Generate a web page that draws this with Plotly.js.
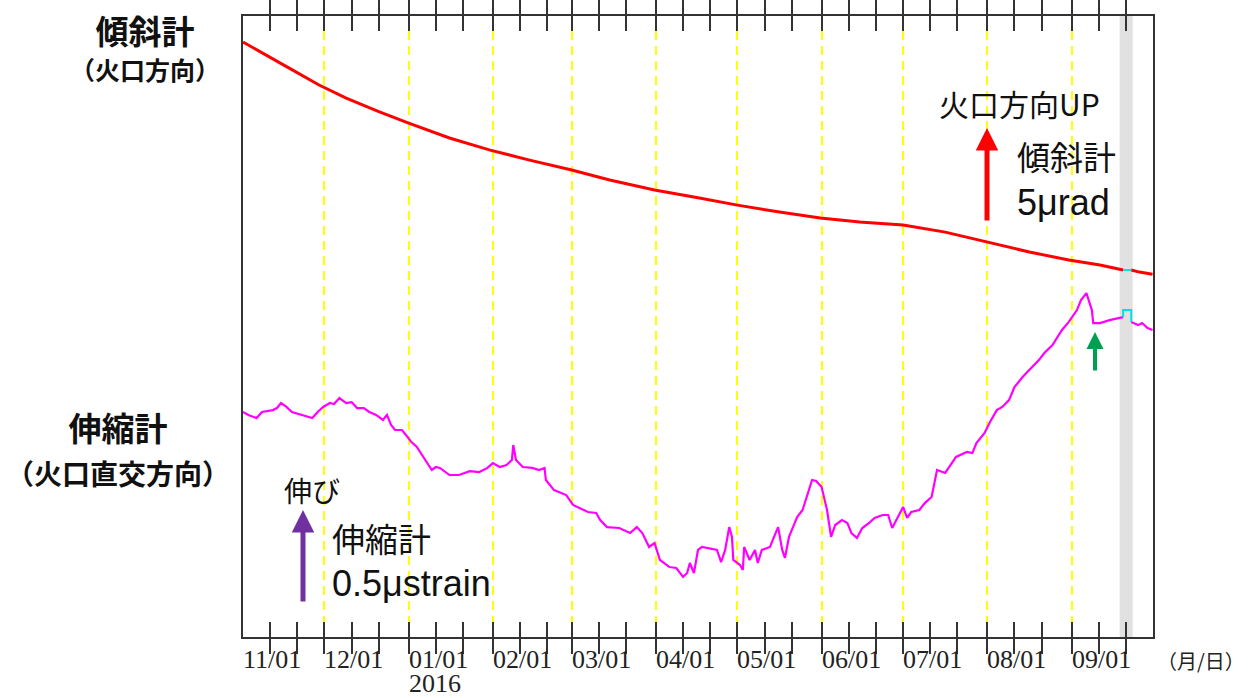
<!DOCTYPE html>
<html>
<head>
<meta charset="utf-8">
<script src="https://cdn.plot.ly/plotly-3.0.1.min.js"></script>
<style>html,body{margin:0;padding:0;background:#fff;}#chart{width:1251px;height:698px;}</style>
</head>
<body>
<div id="chart"></div>
<script>
// ---- data ----
const monthTicks = ['2015-11-01','2015-12-01','2016-01-01','2016-02-01','2016-03-01','2016-04-01','2016-05-01','2016-06-01','2016-07-01','2016-08-01','2016-09-01'];
const monthLabels = ['11/01','12/01','01/01','02/01','03/01','04/01','05/01','06/01','07/01','08/01','09/01'];
const tenDayTicks = ['2015-11-01','2015-11-11','2015-11-21','2015-12-01','2015-12-11','2015-12-21','2016-01-01','2016-01-11','2016-01-21','2016-02-01','2016-02-11','2016-02-21','2016-03-01','2016-03-11','2016-03-21','2016-04-01','2016-04-11','2016-04-21','2016-05-01','2016-05-11','2016-05-21','2016-06-01','2016-06-11','2016-06-21','2016-07-01','2016-07-11','2016-07-21','2016-08-01','2016-08-11','2016-08-21','2016-09-01','2016-09-11','2016-09-21'];
const yearLabel = '2016';

// tilt (crater direction), μrad, arbitrary offset
const tiltDates = ['2015-11-01','2015-11-08','2015-11-18','2015-11-29','2015-12-09','2015-12-21','2016-01-01','2016-01-16','2016-01-31','2016-02-14 12:00','2016-03-01','2016-03-15','2016-03-31 12:00','2016-04-17','2016-05-01','2016-05-16 12:00','2016-05-31 12:00','2016-06-15','2016-07-01','2016-07-16 12:00','2016-08-01','2016-08-16 12:00','2016-08-31','2016-09-11 12:00','2016-09-20','2016-09-21','2016-09-23','2016-09-26','2016-09-30 20:00'];
const tiltVals = [31.99,31.40,30.59,29.68,28.98,28.25,27.63,26.83,26.18,25.64,25.11,24.57,24.03,23.60,23.22,22.85,22.53,22.31,22.15,21.77,21.24,20.70,20.27,20.00,19.73,null,19.73,19.62,19.51];
const tiltGapDates = ['2016-09-20','2016-09-23'];
const tiltGapVals = [19.73,19.73];

// extensometer (perpendicular to crater), μstrain, arbitrary offset
const strainDates = ['2015-11-01','2015-11-03','2015-11-06','2015-11-08','2015-11-12','2015-11-13 12:00','2015-11-15','2015-11-17','2015-11-19','2015-11-22 12:00','2015-11-25','2015-11-26 12:00','2015-11-28 12:00','2015-11-30 12:00','2015-12-03','2015-12-04 12:00','2015-12-06 12:00','2015-12-09','2015-12-11','2015-12-13','2015-12-15 12:00','2015-12-17 12:00','2015-12-20','2015-12-22 12:00','2015-12-24','2015-12-25 12:00','2015-12-27','2015-12-29 12:00','2015-12-31','2016-01-02','2016-01-04','2016-01-05 12:00','2016-01-07 12:00','2016-01-09 12:00','2016-01-11','2016-01-12 12:00','2016-01-16','2016-01-19 12:00','2016-01-23 12:00','2016-01-27','2016-01-30','2016-02-01','2016-02-03 12:00','2016-02-06','2016-02-08','2016-02-08 12:00','2016-02-09 12:00','2016-02-12','2016-02-15 12:00','2016-02-18','2016-02-20','2016-02-20 12:00','2016-02-23 12:00','2016-02-26 12:00','2016-02-28','2016-03-01 12:00','2016-03-04','2016-03-07','2016-03-10','2016-03-11 12:00','2016-03-14','2016-03-18 12:00','2016-03-22 12:00','2016-03-25','2016-03-27','2016-03-29 12:00','2016-03-31 12:00','2016-04-02 12:00','2016-04-06','2016-04-08 12:00','2016-04-11','2016-04-12 12:00','2016-04-13 12:00','2016-04-15','2016-04-16 12:00','2016-04-18','2016-04-23 12:00','2016-04-25','2016-04-26 12:00','2016-04-28','2016-04-29','2016-04-29 12:00','2016-05-02','2016-05-03','2016-05-03 12:00','2016-05-05 12:00','2016-05-07 12:00','2016-05-08 12:00','2016-05-10','2016-05-13','2016-05-14 12:00','2016-05-16','2016-05-17 12:00','2016-05-18 12:00','2016-05-20','2016-05-22','2016-05-23','2016-05-25','2016-05-28 12:00','2016-05-30','2016-06-01','2016-06-03','2016-06-04 12:00','2016-06-06','2016-06-08 12:00','2016-06-10 12:00','2016-06-12','2016-06-14','2016-06-16','2016-06-18 12:00','2016-06-20 12:00','2016-06-23 12:00','2016-06-25 12:00','2016-06-27','2016-06-29','2016-07-01','2016-07-02 12:00','2016-07-04','2016-07-07','2016-07-09','2016-07-11 12:00','2016-07-12 12:00','2016-07-13 12:00','2016-07-16 12:00','2016-07-18','2016-07-20 12:00','2016-07-24 12:00','2016-07-26 12:00','2016-07-28','2016-07-31','2016-08-02','2016-08-04 12:00','2016-08-06 12:00','2016-08-09','2016-08-11','2016-08-14','2016-08-17 12:00','2016-08-20','2016-08-22','2016-08-25','2016-08-28 12:00','2016-08-31','2016-09-03','2016-09-04 12:00','2016-09-06 12:00','2016-09-07','2016-09-08 12:00','2016-09-09','2016-09-11 12:00','2016-09-15','2016-09-18','2016-09-20','2016-09-21','2016-09-23','2016-09-25 12:00','2016-09-27','2016-09-29','2016-09-30 20:00'];
const strainVals = [1.210,1.194,1.177,1.210,1.220,1.231,1.258,1.237,1.210,1.194,1.183,1.177,1.210,1.237,1.258,1.253,1.285,1.258,1.263,1.231,1.231,1.210,1.194,1.167,1.194,1.140,1.113,1.113,1.086,1.048,1.022,0.989,0.941,0.898,0.914,0.909,0.871,0.871,0.892,0.887,0.909,0.935,0.914,0.925,0.952,1.032,0.952,0.914,0.909,0.898,0.909,0.844,0.790,0.774,0.763,0.710,0.694,0.672,0.667,0.629,0.591,0.586,0.559,0.591,0.559,0.484,0.505,0.414,0.376,0.371,0.323,0.344,0.398,0.344,0.468,0.484,0.468,0.403,0.468,0.591,0.538,0.414,0.387,0.360,0.484,0.414,0.468,0.398,0.468,0.484,0.538,0.591,0.468,0.425,0.538,0.613,0.645,0.683,0.844,0.839,0.806,0.683,0.538,0.602,0.629,0.613,0.559,0.532,0.586,0.613,0.640,0.656,0.656,0.586,0.640,0.699,0.640,0.672,0.683,0.720,0.753,0.828,0.898,0.882,0.914,0.968,0.995,0.989,1.043,1.097,1.156,1.220,1.237,1.274,1.344,1.398,1.452,1.489,1.527,1.570,1.651,1.694,1.758,1.812,1.849,1.828,1.758,1.688,1.688,1.704,1.715,1.720,null,1.694,1.677,1.688,1.661,1.651];
const strainGapDates = ['2016-09-20','2016-09-20','2016-09-23','2016-09-23'];
const strainGapVals = [1.720,1.758,1.758,1.694];

const maintDates = ['2016-09-18 17:00','2016-09-23 12:00'];

// ---- chart ----
const X0 = 243, PW = 910, Y0 = 637, PH = 621;
const px = v => (v - X0) / PW;
const py = v => (Y0 - v) / PH;
const jp = 'Noto Sans CJK JP, sans-serif';
const lat = 'Liberation Sans, Arial, sans-serif';
const serif = 'Liberation Serif, serif';

const traces = [
  {x: tiltDates, y: tiltVals, type: 'scatter', mode: 'lines', line: {color: '#ff0000', width: 3}, yaxis: 'y', connectgaps: false, hoverinfo: 'skip'},
  {x: tiltGapDates, y: tiltGapVals, type: 'scatter', mode: 'lines', line: {color: '#00e0e0', width: 2}, yaxis: 'y', hoverinfo: 'skip'},
  {x: strainDates, y: strainVals, type: 'scatter', mode: 'lines', line: {color: '#ff00ff', width: 2.2}, yaxis: 'y2', connectgaps: false, hoverinfo: 'skip'},
  {x: strainGapDates, y: strainGapVals, type: 'scatter', mode: 'lines', line: {color: '#00e0e0', width: 2}, yaxis: 'y2', hoverinfo: 'skip'}
];

function txt(x, y, text, size, family, xanchor, extra) {
  return Object.assign({x: px(x), xref: 'paper', y: py(y), yref: 'paper', xanchor: xanchor || 'center', yanchor: 'middle', text: text, showarrow: false, font: {family: family, size: size, color: '#111'}}, extra || {});
}
const sz = (s, t) => '<span style="font-size:' + s + 'px">' + t + '</span>';

const annotations = [];
monthTicks.forEach((d, i) => {
  const first = (d === '2016-01-01');
  const label = first ? sz(26, monthLabels[i]) + '<br>' + sz(26, yearLabel) : sz(26, monthLabels[i]);
  annotations.push({x: d, xref: 'x', y: py(first ? 671 : 659), yref: 'paper', xanchor: 'left', yanchor: 'middle', align: 'left', text: label, showarrow: false, font: {family: serif, size: 18.5, color: '#222'}, borderpad: 0, xshift: -1});
});
annotations.push(txt(1201, 660, '（月/日）', 20, jp, 'center', {font: {family: jp, size: 20, color: '#222'}}));

// left titles
annotations.push(txt(145, 46, '<b>' + sz(33, '傾斜計') + '<br>' + sz(25, '（火口方向）') + '</b>', 28, jp));
annotations.push(txt(118, 448, '<b>' + sz(33, '伸縮計') + '<br>' + sz(28, '（火口直交方向）') + '</b>', 34, jp));

// scale annotations
annotations.push(txt(1019, 103, '火口方向UP', 30, jp));
annotations.push(txt(1015, 156, '傾斜計', 33, jp, 'left'));
annotations.push(txt(1015, 202, '5μrad', 36, lat, 'left'));
annotations.push({x: px(987), xref: 'paper', y: py(128), yref: 'paper', text: '', showarrow: true, ax: 0, ay: 94, arrowhead: 2, arrowsize: 0.9, arrowwidth: 5, arrowcolor: '#ff0000', standoff: 0});

annotations.push(txt(312, 490, '伸び', 28, jp));
annotations.push({x: px(303), xref: 'paper', y: py(510), yref: 'paper', text: '', showarrow: true, ax: 0, ay: 93, arrowhead: 2, arrowsize: 0.9, arrowwidth: 5, arrowcolor: '#7030a0', standoff: 0});
annotations.push(txt(330, 538, '伸縮計', 33, jp, 'left'));
annotations.push(txt(330, 583, '0.5μstrain', 36, lat, 'left'));

annotations.push({x: px(1095), xref: 'paper', y: py(332), yref: 'paper', text: '', showarrow: true, ax: 0, ay: 40, arrowhead: 2, arrowsize: 0.85, arrowwidth: 4, arrowcolor: '#00a050', standoff: 0});

const layout = {
  width: 1251, height: 698,
  margin: {l: 243, r: 98, t: 16, b: 61, pad: 0},
  paper_bgcolor: '#ffffff', plot_bgcolor: '#ffffff',
  showlegend: false,
  xaxis: {
    type: 'date', range: ['2015-11-01', '2016-10-01'],
    tickmode: 'array', tickvals: tenDayTicks, showticklabels: false,
    ticks: 'inside', ticklen: 15, tickwidth: 2, tickcolor: '#333',
    showgrid: false,
    minor: {tickmode: 'array', tickvals: monthTicks, ticks: '', showgrid: true, gridcolor: '#ffff00', gridwidth: 2, griddash: '9px,6px'},
    showline: true, linecolor: '#333', linewidth: 2, mirror: 'allticks', zeroline: false, fixedrange: true
  },
  yaxis: {range: [0, 33.39], showticklabels: false, ticks: '', showgrid: false, zeroline: false, showline: true, linecolor: '#333', linewidth: 2, mirror: true, fixedrange: true},
  yaxis2: {range: [0, 3.339], overlaying: 'y', showticklabels: false, ticks: '', showgrid: false, zeroline: false, showline: false, fixedrange: true},
  shapes: [
    {type: 'rect', xref: 'x', yref: 'paper', x0: maintDates[0], x1: maintDates[1], y0: 0, y1: 1, fillcolor: '#d4d4d4', opacity: 0.7, line: {width: 0}, layer: 'below'}
  ],
  annotations: annotations
};

Plotly.newPlot('chart', traces, layout, {displayModeBar: false, staticPlot: true});
</script>
</body>
</html>
